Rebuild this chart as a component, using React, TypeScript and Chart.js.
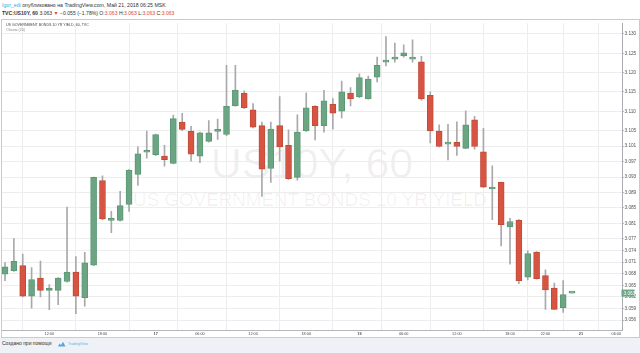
import React, { useEffect, useRef } from "react";
import { Chart, registerables } from "chart.js";

Chart.register(...registerables);

// ---- data (hourly candles, TVC:US10Y, 60) ----
const opens = [
  3.0679, 3.0688, 3.0701, 3.0622, 3.0669, 3.0637, 3.0637, 3.066, 3.0684, 3.0618,
  3.0702, 3.0921, 3.0818, 3.0818, 3.0859, 3.0937, 3.0994, 3.0988, 3.0984, 3.0965,
  3.1072, 3.1049, 3.0984, 3.1022, 3.1048, 3.104, 3.1114, 3.1147, 3.1104, 3.1063,
  3.0952, 3.1063, 3.1012, 3.0929, 3.1049, 3.1113, 3.1063, 3.1118, 3.11, 3.1147,
  3.1137, 3.1132, 3.1188, 3.1227, 3.1235, 3.1243, 3.1235, 3.1228, 3.1141, 3.1049,
  3.1015, 3.102, 3.1004, 3.1078, 3.0995, 3.0899, 3.0916, 3.0801, 3.0819, 3.0671,
  3.0736, 3.0675, 3.0643, 3.0592, 3.063,
];
const highs = [
  3.0709, 3.0771, 3.0731, 3.0696, 3.0713, 3.0652, 3.067, 3.0852, 3.0724, 3.0735,
  3.093, 3.0933, 3.0841, 3.0893, 3.0949, 3.1008, 3.1049, 3.1041, 3.1012, 3.109,
  3.1095, 3.1061, 3.1046, 3.1076, 3.108, 3.1219, 3.1219, 3.1153, 3.112, 3.1072,
  3.1072, 3.1138, 3.1052, 3.1091, 3.1148, 3.1115, 3.1154, 3.1133, 3.1178, 3.1161,
  3.1197, 3.1191, 3.124, 3.1293, 3.1276, 3.1272, 3.1285, 3.1242, 3.115, 3.1065,
  3.1066, 3.1073, 3.1101, 3.1087, 3.1056, 3.0959, 3.0917, 3.0823, 3.082, 3.0739,
  3.0737, 3.069, 3.0656, 3.0662, 3.063,
];
const lows = [
  3.0662, 3.0686, 3.062, 3.0591, 3.062, 3.0587, 3.06, 3.0658, 3.0577, 3.0596,
  3.0701, 3.082, 3.0786, 3.0816, 3.0841, 3.0908, 3.0979, 3.0985, 3.0958, 3.0964,
  3.105, 3.0971, 3.0967, 3.102, 3.1027, 3.1037, 3.1113, 3.1107, 3.1057, 3.088,
  3.0916, 3.0971, 3.0924, 3.0922, 3.1048, 3.1026, 3.1046, 3.1054, 3.1083, 3.1114,
  3.1135, 3.1131, 3.1176, 3.1217, 3.1227, 3.124, 3.1227, 3.1129, 3.1018, 3.1008,
  3.0974, 3.0986, 3.1003, 3.1002, 3.0903, 3.082, 3.0752, 3.0705, 3.0654, 3.0664,
  3.0666, 3.0588, 3.0587, 3.058, 3.063,
];
const closes = [
  3.0698, 3.0712, 3.0622, 3.0665, 3.0637, 3.0643, 3.0669, 3.0684, 3.0622, 3.0708,
  3.0929, 3.0822, 3.0823, 3.0856, 3.0948, 3.099, 3.0996, 3.104, 3.0975, 3.1081,
  3.1053, 3.0989, 3.1044, 3.1044, 3.105, 3.1113, 3.1155, 3.1109, 3.1059, 3.095,
  3.1054, 3.1008, 3.0926, 3.1046, 3.1109, 3.1063, 3.1127, 3.1095, 3.115, 3.1132,
  3.1187, 3.1183, 3.1219, 3.1229, 3.124, 3.1251, 3.124, 3.1132, 3.1049, 3.1009,
  3.102, 3.1009, 3.1065, 3.1009, 3.0904, 3.0904, 3.0807, 3.0815, 3.0662, 3.0732,
  3.0667, 3.0638, 3.0588, 3.0626, 3.063,
];

const xTickIndex = [6, 12, 18, 23, 29, 35, 41, 46, 52, 58, 62, 66, 70];
const xTickLabels = ["12:00", "18:00", "17", "06:00", "12:00", "18:00", "19", "06:00", "12:00", "18:00", "22:00", "21", "06:00"];
const xDateLabels = ["17", "19", "21"];

const yTickValues = [
  3.13, 3.125, 3.12, 3.115, 3.11, 3.105, 3.101, 3.097, 3.093, 3.089,
  3.085, 3.081, 3.077, 3.074, 3.071, 3.068, 3.065, 3.062, 3.059, 3.056,
];
const lastPrice = 3.063;

const X_MIN = 0.66;
const X_MAX = 70.64;
const Y_MIN = 3.05345;
const Y_MAX = 3.13274;

const UP = "#6ba583";
const DOWN = "#d75442";
const UP_BORDER = "#5b9874";
const DOWN_BORDER = "#c24a39";
const WICK = "#a9a9ab";
const GRID = "#ededee";
const FONT = "'Liberation Sans', Arial, sans-serif";

const lastPriceLabel = {
  id: "lastPriceLabel",
  afterDraw(chart: any) {
    const y = chart.scales.y;
    const ctx = chart.ctx;
    const py = y.getPixelForValue(lastPrice);
    ctx.save();
    ctx.fillStyle = UP;
    ctx.fillRect(y.left - 0.5, py - 3.5, 13, 7);
    ctx.fillStyle = "#ffffff";
    ctx.font = `4.7px ${FONT}`;
    ctx.textBaseline = "middle";
    ctx.textAlign = "left";
    ctx.fillText(lastPrice.toFixed(3), y.left + 1.5, py + 0.3);
    ctx.restore();
  },
};

function CandleChart() {
  const ref = useRef<HTMLCanvasElement | null>(null);

  useEffect(() => {
    if (!ref.current) return;
    const idx = closes.map((_, i) => i + 1);
    const up = closes.map((c, i) => c >= opens[i]);
    const chart = new Chart(ref.current, {
      type: "bar",
      data: {
        datasets: [
          {
            label: "body",
            data: idx.map((x, i) => ({ x, y: [opens[i], closes[i]] })) as any,
            backgroundColor: up.map((u) => (u ? UP : DOWN)),
            borderColor: up.map((u) => (u ? UP_BORDER : DOWN_BORDER)),
            borderWidth: 1,
            borderSkipped: false,
            barThickness: 6,
            minBarLength: 2,
            grouped: false,
            order: 1,
          } as any,
          {
            label: "wick",
            data: idx.map((x, i) => ({ x, y: [lows[i], highs[i]] })) as any,
            backgroundColor: WICK,
            borderWidth: 0,
            barThickness: 1,
            grouped: false,
            order: 2,
          } as any,
        ],
      },
      options: {
        responsive: false,
        animation: false,
        devicePixelRatio: 1,
        layout: { padding: 0 },
        plugins: {
          legend: { display: false },
          tooltip: { enabled: false },
        },
        scales: {
          x: {
            type: "linear",
            min: X_MIN,
            max: X_MAX,
            offset: false,
            afterBuildTicks: (scale: any) => {
              scale.ticks = xTickIndex.map((v) => ({ value: v }));
            },
            afterFit: (scale: any) => {
              scale.height = 7;
            },
            grid: { color: GRID, drawTicks: false, lineWidth: 1 },
            border: { display: true, color: "#b3b6ba" },
            ticks: {
              autoSkip: false,
              maxRotation: 0,
              padding: 1.2,
              color: "#4a4a4a",
              font: (ctx: any) => {
                const i = xTickIndex.indexOf(ctx.tick ? ctx.tick.value : -1);
                const lab = i >= 0 ? xTickLabels[i] : "";
                return { size: 3.8, family: FONT, weight: xDateLabels.includes(lab) ? "bold" : "normal" };
              },
              callback: (v: any) => {
                const i = xTickIndex.indexOf(Number(v));
                return i >= 0 ? xTickLabels[i] : "";
              },
            },
          } as any,
          y: {
            type: "linear",
            position: "right",
            min: Y_MIN,
            max: Y_MAX,
            afterBuildTicks: (scale: any) => {
              scale.ticks = yTickValues.map((v) => ({ value: v }));
            },
            afterFit: (scale: any) => {
              scale.width = 17;
            },
            grid: { color: GRID, drawTicks: true, tickLength: 2, tickColor: "#b9bcc0", lineWidth: 1 },
            border: { display: true, color: "#a9acb0" },
            ticks: {
              autoSkip: false,
              padding: 0.5,
              color: "#555555",
              font: { size: 4.7, family: FONT },
              callback: (v: any) => Number(v).toFixed(3),
            },
          } as any,
        },
      },
      plugins: [lastPriceLabel],
    });
    return () => chart.destroy();
  }, []);

  return (
    <canvas
      ref={ref}
      width={637}
      height={317}
      style={{ position: "absolute", left: 0, top: 0, width: 637, height: 317, zIndex: 1 }}
    />
  );
}

export default function App() {
  const red = "#e0483a";
  return (
    <div
      style={{
        position: "fixed",
        left: 0,
        top: 0,
        width: 640,
        height: 353,
        background: "#ffffff",
        overflow: "hidden",
        fontFamily: FONT,
        color: "#333",
      }}
    >
      <div style={{ position: "absolute", left: 2, top: 2, fontSize: 5.2, lineHeight: "6px", whiteSpace: "nowrap" }}>
        <span style={{ color: "#3ea6e0" }}>Igor_edi</span>
        <span> опубликовано на TradingView.com, Май 21, 2018 06:25 MSK</span>
      </div>
      <div style={{ position: "absolute", left: 2, top: 9.7, fontSize: 5.1, lineHeight: "6px", whiteSpace: "nowrap" }}>
        <span style={{ fontWeight: "bold" }}>TVC:US10Y, 60</span>
        <span> 3.063 </span>
        <span style={{ color: red }}>▼</span>
        <span> −0.055 (−1.78%) O:</span>
        <span style={{ color: red }}>3.063</span>
        <span> H:</span>
        <span style={{ color: red }}>3.063</span>
        <span> L:</span>
        <span style={{ color: red }}>3.063</span>
        <span> C:</span>
        <span style={{ color: red }}>3.063</span>
      </div>

      <div
        style={{
          position: "absolute",
          left: 1,
          top: 19,
          width: 637,
          height: 317,
          border: "1px solid #c8cbcf",
          background: "#ffffff",
        }}
      >
        <div
          style={{
            position: "absolute",
            left: 0,
            width: 620,
            top: 121.6,
            textAlign: "center",
            fontSize: 43,
            lineHeight: "43px",
            color: "rgba(0,0,0,0.06)",
            whiteSpace: "nowrap",
            zIndex: 0,
          }}
        >
          US10Y, 60
        </div>
        <div
          style={{
            position: "absolute",
            left: 0,
            width: 616,
            top: 170.9,
            textAlign: "center",
            fontSize: 18.8,
            lineHeight: "18.8px",
            color: "rgba(0,0,0,0.06)",
            whiteSpace: "nowrap",
            zIndex: 0,
          }}
        >
          US GOVERNMENT BONDS 10 YR YIELD
        </div>
        <CandleChart />
        <div
          style={{
            position: "absolute",
            left: 4,
            top: 2.7,
            fontSize: 3.6,
            lineHeight: "4px",
            color: "#444",
            whiteSpace: "nowrap",
            zIndex: 2,
          }}
        >
          US GOVERNMENT BONDS 10 YR YIELD, 60, TVC
        </div>
        <div
          style={{
            position: "absolute",
            left: 4,
            top: 8,
            fontSize: 3.6,
            lineHeight: "4px",
            color: "#8a8a8a",
            whiteSpace: "nowrap",
            zIndex: 2,
          }}
        >
          Объем (20)
        </div>
      </div>

      <div style={{ position: "absolute", left: 0, top: 338, width: 640, height: 15, background: "#eef1f5" }}>
        <div style={{ position: "absolute", left: 2, top: 2.3, fontSize: 5, lineHeight: "6px", color: "#333", whiteSpace: "nowrap" }}>
          Создано при помощи
        </div>
        <svg style={{ position: "absolute", left: 57, top: 2.5 }} width={9} height={6} viewBox="0 0 9 6">
          <path d="M1 5.5 L2.5 2.5 L4 4 L6 0.8 L8.5 5.5 Z" fill="#56a8dc" />
        </svg>
        <div style={{ position: "absolute", left: 68, top: 2.6, fontSize: 3.6, lineHeight: "6px", color: "#5ab4e6", whiteSpace: "nowrap" }}>
          TradingView
        </div>
      </div>
    </div>
  );
}
